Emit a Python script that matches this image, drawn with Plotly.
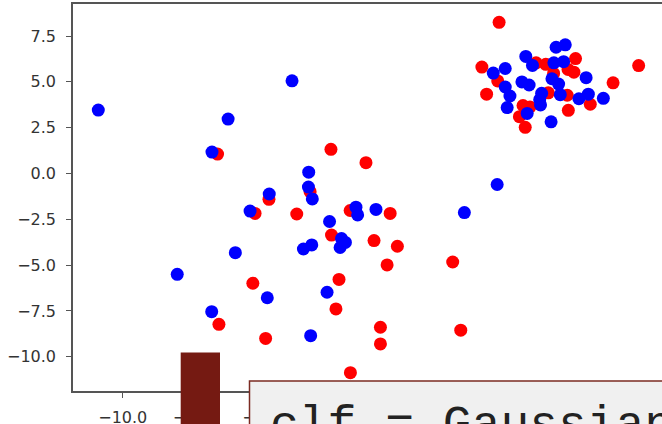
import plotly.graph_objects as go

# ---- data ----
blue_x = [-10.88, -3.91, -6.21, -6.79, -3.31, -3.32, -3.18, -4.73, -5.42, -2.56,
          -1.61, -1.55, -0.89, 2.29, 3.47, -2.13, -1.99, -2.18, -3.50, -3.20,
          -5.95, -8.04, -4.80, -6.80, -3.24, -2.65,
          5.59, 5.92, 4.50, 4.74, 3.33, 3.76, 5.51, 5.86, 6.67, 4.36,
          4.62, 5.44, 5.68, 3.76, 3.93, 5.07, 5.00, 5.74, 6.41, 6.75,
          7.29, 3.83, 5.03, 4.55, 5.41]
blue_y = [3.46, 5.06, 2.97, 1.17, 0.07, -0.74, -1.39, -1.12, -2.05, -2.62,
          -1.84, -2.26, -1.96, -2.13, -0.60, -3.55, -3.76, -4.04, -4.12, -3.90,
          -4.32, -5.50, -6.78, -7.54, -8.85, -6.48,
          6.89, 7.02, 6.39, 5.90, 5.48, 5.73, 6.04, 6.10, 5.23, 5.00,
          4.83, 5.17, 4.88, 4.72, 4.23, 4.38, 4.03, 4.30, 4.08, 4.33,
          4.10, 3.60, 3.74, 3.28, 2.82]

red_x = [-6.59, -2.51, -3.26, -4.74, -5.24, -3.74, -1.82, -0.38, -1.25, -2.49,
         -0.96, -0.12, -0.49, 1.87, -2.22, -2.33, -0.73, -0.73, 2.16, -1.81,
         -5.32, -6.54, -4.86,
         3.54, 2.92, 3.09, 3.49, 8.56, 7.64, 6.29, 4.87, 5.22, 5.50,
         6.02, 6.23, 5.31, 5.99, 6.82, 6.03, 4.40, 4.65, 4.27, 4.48]
red_y = [1.06, 1.32, -0.99, -1.41, -2.18, -2.21, -2.02, -2.18, 0.59, -3.36,
         -3.66, -3.97, -4.99, -4.83, -5.78, -7.39, -8.39, -9.30, -8.55, -10.87,
         -5.99, -8.23, -9.00,
         8.25, 5.81, 4.33, 5.05, 5.89, 4.95, 6.27, 6.04, 5.96, 5.46,
         5.68, 5.53, 4.40, 4.27, 3.78, 3.45, 3.71, 3.63, 3.10, 2.52]

x_tick_vals = [-10.0, -7.5, -5.0, -2.5, 0.0, 2.5, 5.0, 7.5]
x_tick_text = ["\u221210.0", "\u22127.5", "\u22125.0", "\u22122.5", "0.0", "2.5", "5.0", "7.5"]
y_tick_vals = [-10.0, -7.5, -5.0, -2.5, 0.0, 2.5, 5.0, 7.5]
y_tick_text = ["\u221210.0", "\u22127.5", "\u22125.0", "\u22122.5", "0.0", "2.5", "5.0", "7.5"]

code_text = "clf = GaussianNB()"

# ---- figure ----
W, H = 662, 424
ML, MR, MT, MB = 73, 0, 4, 33
PW, PH = W - ML - MR, H - MT - MB


def px_x(p):
    return (p - ML) / PW


def px_y(p):
    return (H - MB - p) / PH


fig = go.Figure()
fig.add_trace(go.Scatter(x=red_x, y=red_y, mode="markers",
                         marker=dict(color="#ff0000", size=13, line=dict(width=0)),
                         showlegend=False, hoverinfo="skip"))
fig.add_trace(go.Scatter(x=blue_x, y=blue_y, mode="markers",
                         marker=dict(color="#0000ff", size=13, line=dict(width=0)),
                         showlegend=False, hoverinfo="skip"))

axis_common = dict(showgrid=False, zeroline=False, showline=True, automargin=False,
                   linecolor="#555555", linewidth=1.5, ticks="outside",
                   ticklen=5, tickwidth=1.3, tickcolor="#555555",
                   tickfont=dict(family="DejaVu Sans", size=16, color="#333333"))

fig.update_xaxes(range=[-11.79, 9.40], tickvals=x_tick_vals, ticktext=x_tick_text,
                 mirror=True, ticklabelstandoff=6, **axis_common)
fig.update_yaxes(range=[-11.87, 9.25], tickvals=y_tick_vals, ticktext=y_tick_text,
                 ticklabelstandoff=7, **axis_common)

# overlays seen in the screenshot (dark bar and code cell box)
fig.add_shape(type="rect", xref="paper", yref="paper",
              x0=px_x(180.7), x1=px_x(220), y0=px_y(440), y1=px_y(352.5),
              fillcolor="#751a12", line=dict(width=0), layer="above")
fig.add_shape(type="rect", xref="paper", yref="paper",
              x0=px_x(249.5), x1=px_x(700), y0=px_y(440), y1=px_y(381),
              fillcolor="#f0f0f0", line=dict(color="#7b2b22", width=1.5), layer="above")
fig.add_annotation(text=code_text, xref="paper", yref="paper",
                   x=px_x(268), y=px_y(397), xanchor="left", yanchor="top",
                   showarrow=False,
                   font=dict(family="Liberation Mono", size=48, color="#222222"))

fig.update_layout(width=W, height=H, margin=dict(l=ML, r=MR, t=MT, b=MB),
                  paper_bgcolor="white", plot_bgcolor="white")

fig.write_html("out.html", config={"displayModeBar": False},
               post_script="document.body.style.margin='0';")
